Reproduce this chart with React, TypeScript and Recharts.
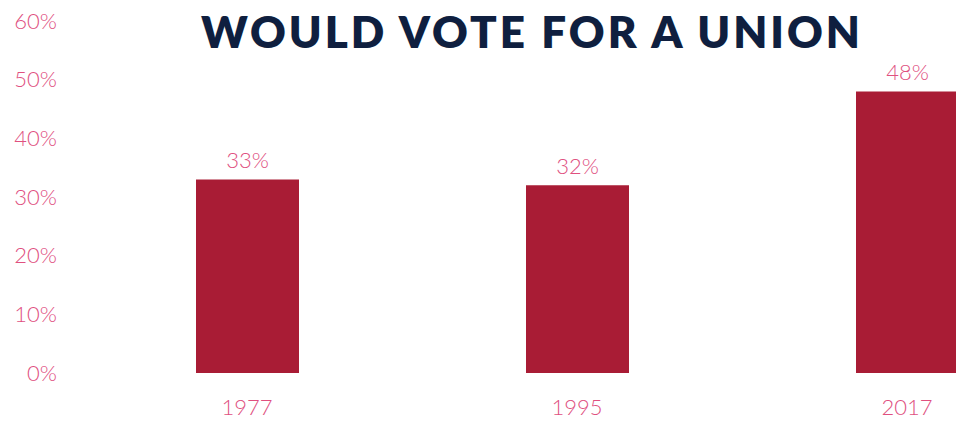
import { BarChart, Bar, XAxis, YAxis, LabelList } from 'recharts'

const years = ['1977', '1995', '2017']
const voteShare = [33, 32, 48]
const yTicks = [0, 10, 20, 30, 40, 50, 60]

const data = years.map((year, i) => ({ year, value: voteShare[i] }))

const pink = '#e0507f'
const barRed = '#a91c35'
const navy = '#0f1f3f'
const font = 'Lato, "Open Sans", sans-serif'
const labelStyle = { fill: pink, fontSize: 22, fontFamily: font, fontWeight: 300 }

export default function App() {
  return (
    <div style={{ position: 'absolute', left: 0, top: 0, width: 956, height: 424, overflow: 'hidden', background: '#fff' }}>
      <div
        style={{
          position: 'absolute',
          left: 0,
          width: 1064,
          top: 5,
          textAlign: 'center',
          fontFamily: font,
          fontWeight: 800,
          fontSize: 44,
          letterSpacing: 3,
          color: navy,
          lineHeight: '52px',
        }}
      >
        WOULD VOTE FOR A UNION
      </div>
      <BarChart width={1072} height={424} data={data} margin={{ top: 21, right: 0, bottom: 0, left: 0 }} barCategoryGap={0}>
        <XAxis
          dataKey="year"
          axisLine={false}
          tickLine={false}
          tickSize={0}
          tickMargin={26}
          height={51}
          tick={labelStyle}
        />
        <YAxis
          domain={[0, 60]}
          ticks={yTicks}
          interval={0}
          width={82}
          axisLine={false}
          tickLine={false}
          tickSize={0}
          tickMargin={25}
          tickFormatter={(v) => `${v}%`}
          tick={labelStyle}
        />
        <Bar dataKey="value" fill={barRed} barSize={103} isAnimationActive={false}>
          <LabelList
            dataKey="value"
            position="top"
            offset={11}
            formatter={(v: number) => `${v}%`}
            style={labelStyle}
          />
        </Bar>
      </BarChart>
    </div>
  )
}
